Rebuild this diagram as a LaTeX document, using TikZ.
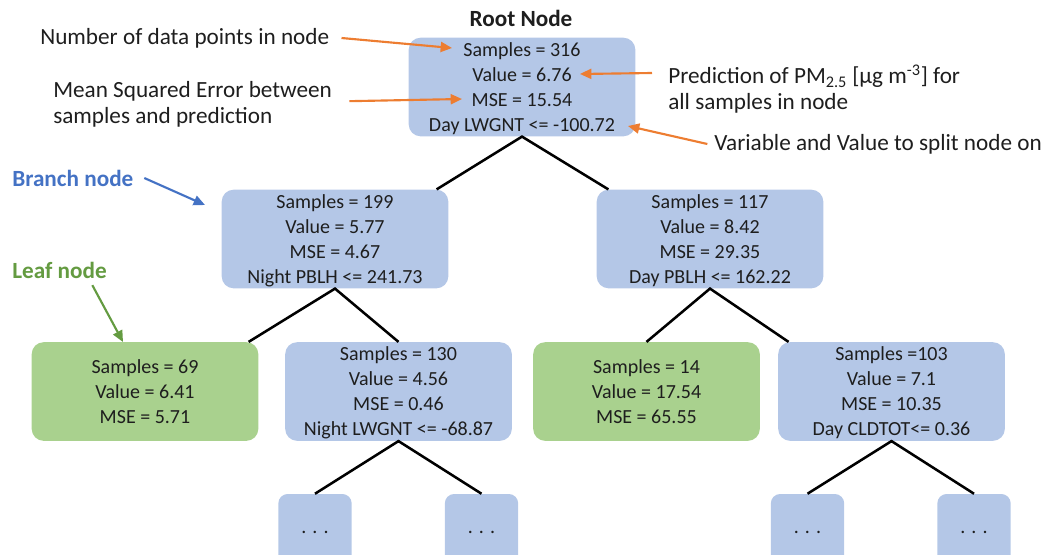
\documentclass[tikz,border=0pt]{standalone}
\usepackage{fontspec}
\setmainfont{Carlito}
\usetikzlibrary{arrows.meta}
\definecolor{BoxBlue}{RGB}{180,199,231}
\definecolor{LeafGreen}{RGB}{169,209,142}
\definecolor{NoteOrange}{RGB}{237,125,49}
\definecolor{BranchBlue}{RGB}{68,114,196}
\definecolor{LeafDark}{RGB}{100,155,65}
\definecolor{InkGray}{RGB}{30,30,30}

\begin{document}
\begin{tikzpicture}[x=0.75pt, y=-0.75pt]
        \tikzstyle{box} = [rectangle, fill=BoxBlue, rounded corners=9pt, text=InkGray,
          minimum width=170pt, minimum height=74pt, align=center, inner sep=0pt,
          text depth=0pt, font=\fontsize{15}{18.75}\selectfont]
        \tikzstyle{leaf} = [box, fill=LeafGreen]
        \tikzstyle{more} = [box, minimum width=55pt, minimum height=57pt, rounded corners=7pt]
        \tikzstyle{note} = [align=left, inner sep=0pt, text=InkGray,
          font=\fontsize{17.4}{19.5}\selectfont]
        \tikzstyle{edge} = [line width=1.9pt, black]
        \tikzstyle{pointer} = [line width=1.6pt, NoteOrange, -{Triangle[length=8.5pt, width=7.5pt]}]

        \path[use as bounding box, clip] (0,0) rectangle (1050,554);

        % tree nodes
        \node[box] (root) at (522,87) {Samples = 316\\Value = 6.76\\MSE = 15.54\\Day LWGNT <= -100.72};
        \node[box] (b1) at (335,239) {Samples = 199\\Value = 5.77\\MSE = 4.67\\Night PBLH <= 241.73};
        \node[box] (b2) at (710,239) {Samples = 117\\Value = 8.42\\MSE = 29.35\\Day PBLH <= 162.22};
        \node[leaf] (leaf1) at (145,391.5) {Samples = 69\\Value = 6.41\\MSE = 5.71};
        \node[box] (b3) at (398.5,391.5) {Samples = 130\\Value = 4.56\\MSE = 0.46\\Night LWGNT <= -68.87};
        \node[leaf] (leaf2) at (646.5,391.5) {Samples = 14\\Value = 17.54\\MSE = 65.55};
        \node[box] (b4) at (891.5,391.5) {Samples =103\\Value = 7.1\\MSE = 10.35\\Day CLDTOT<= 0.36};

        \foreach \x/\name in {315/d1, 481.5/d2, 807.5/d3, 974/d4}
          \node[more] (\name) at (\x,532) {. . .};

        % tree edges
        \draw[edge] ([xshift=-9pt]b1.north east) -- (root.south) -- ([xshift=9pt]b2.north west);
        \draw[edge] ([xshift=-7.5pt]leaf1.north east) -- (b1.south) -- (b3.north);
        \draw[edge] (leaf2.north) -- (b2.south) -- ([xshift=8pt]b4.north west);
        \draw[edge] (d1.north) -- (b3.south) -- (d2.north);
        \draw[edge] (d3.north) -- (b4.south) -- (d4.north);

        % annotations
        \node[note, font=\bfseries\fontsize{17.4}{19.5}\selectfont] (rootlbl) at (521,18) {Root Node};
        \node[note, anchor=west] (numtxt) at (40,38) {Number of data points in node};
        \node[note, anchor=west] (msetxt) at (53,104.5) {Mean Squared Error between\\samples and prediction};
        \node[note, anchor=west] (predtxt) at (668,89) {Prediction of PM\textsubscript{2.5} [µg m\textsuperscript{-3}] for\\all samples in node};
        \node[note, anchor=west] (vartxt) at (714,144) {Variable and Value to split node on};
        \node[note, anchor=west, text=BranchBlue, font=\bfseries\fontsize{17.4}{19.5}\selectfont] (brtxt) at (12,178) {Branch node};
        \node[note, anchor=west, text=LeafDark, font=\bfseries\fontsize{17.4}{19.5}\selectfont] (leaftxt) at (12,270) {Leaf node};

        \coordinate (tipS) at (452,48);
        \coordinate (tipM) at (462,99);
        \coordinate (tipV) at (580,74);
        \coordinate (tipD) at (628,126);
        \coordinate (tipB) at (205,205);
        \coordinate (tipL) at (123,342);

        \draw[pointer] ([xshift=9pt]numtxt.east) -- (tipS);
        \draw[pointer] ([xshift=13pt, yshift=2.5pt]msetxt.east) -- (tipM);
        \draw[pointer] ([xshift=-12pt, yshift=12pt]predtxt.west) -- (tipV);
        \draw[pointer] ([xshift=-5pt]vartxt.west) -- (tipD);
        \draw[pointer, BranchBlue] ([xshift=8pt]brtxt.east) -- (tipB);
        \draw[pointer, LeafDark] ([xshift=-11pt, yshift=-5pt]leaftxt.south east) -- (tipL);
      \end{tikzpicture}
\end{document}
